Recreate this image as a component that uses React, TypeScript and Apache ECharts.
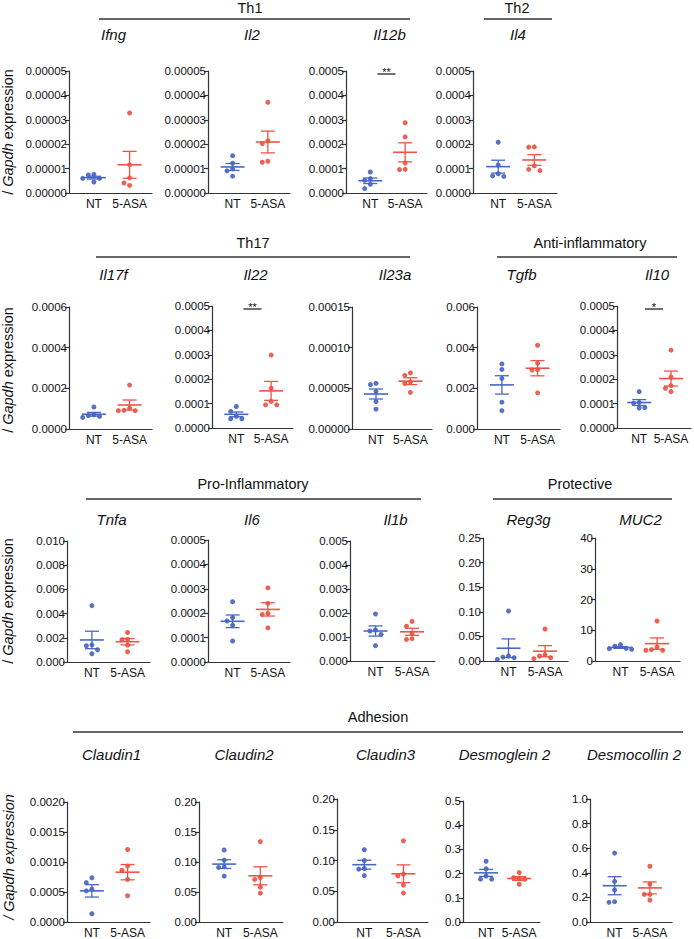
import React, { useEffect, useRef } from 'react';
import * as echarts from 'echarts';

// ---------- data ----------
const GROUP_LABELS = ['NT', '5-ASA'];

const GENES = [
  'Ifng', 'Il2', 'Il12b', 'Il4',
  'Il17f', 'Il22', 'Il23a', 'Tgfb', 'Il10',
  'Tnfa', 'Il6', 'Il1b', 'Reg3g', 'MUC2',
  'Claudin1', 'Claudin2', 'Claudin3', 'Desmoglein 2', 'Desmocollin 2',
];

const IFNG_NT = [0.0000076, 0.000006, 0.0000045, 0.0000074, 0.000006];
const IFNG_ASA = [0.0000328, 0.0000116, 0.0000062, 0.0000041, 0.0000031];
const IL2_NT = [0.0000153, 0.0000122, 0.0000099, 0.0000091, 0.0000069];
const IL2_ASA = [0.0000372, 0.0000203, 0.0000214, 0.0000126, 0.000013];
const IL12B_NT = [0.000086, 0.000059, 0.000052, 0.000036, 0.000018];
const IL12B_ASA = [0.000288, 0.00023, 0.000123, 0.000097, 0.000096];
const IL4_NT = [0.000208, 0.000115, 0.000079, 0.00007, 0.000068];
const IL4_ASA = [0.000188, 0.000189, 0.000111, 0.000092, 0.000097];
const IL17F_NT = [0.000108, 0.000057, 0.00007, 0.000066, 0.000062];
const IL17F_ASA = [0.000216, 0.00009, 0.000102, 0.000092, 0.00009];
const IL22_NT = [0.000088, 0.000068, 0.000048, 0.000038, 0.000038];
const IL22_ASA = [0.000299, 0.000163, 0.000109, 0.000095, 0.000095];
const IL23A_NT = [0.0000562, 0.0000546, 0.000046, 0.0000338, 0.0000244];
const IL23A_ASA = [0.000069, 0.000066, 0.000058, 0.000056, 0.000045];
const TGFB_NT = [0.0032, 0.00293, 0.00249, 0.00132, 0.0009];
const TGFB_ASA = [0.00412, 0.00323, 0.00292, 0.0029, 0.00178];
const IL10_NT = [0.000149, 0.000105, 0.000102, 0.000082, 0.000084];
const IL10_ASA = [0.000319, 0.000208, 0.000174, 0.000163, 0.000149];
const TNFA_NT = [0.00466, 0.00142, 0.00134, 0.00101, 0.00068];
const TNFA_ASA = [0.00244, 0.00184, 0.00186, 0.0014, 0.00085];
const IL6_NT = [0.000247, 0.000182, 0.000168, 0.000151, 0.000086];
const IL6_ASA = [0.000304, 0.00024, 0.000199, 0.000195, 0.00014];
const IL1B_NT = [0.00196, 0.00129, 0.00125, 0.00111, 0.00064];
const IL1B_ASA = [0.00165, 0.00145, 0.00115, 0.00093, 0.0009];
const REG3G_NT = [0.1016, 0.0102, 0.008, 0.0068, 0.0034];
const REG3G_ASA = [0.065, 0.0129, 0.0102, 0.0068, 0.0047];
const MUC2_NT = [5.3, 4.8, 4.1, 3.8, 4.0];
const MUC2_ASA = [13.0, 4.55, 3.7, 3.5, 3.5];
const CLDN1_NT = [0.000738, 0.000656, 0.000546, 0.000519, 0.000137];
const CLDN1_ASA = [0.001208, 0.000934, 0.000863, 0.00071, 0.000437];
const CLDN2_NT = [0.12, 0.103, 0.091, 0.092, 0.0765];
const CLDN2_ASA = [0.134, 0.074, 0.071, 0.058, 0.048];
const CLDN3_NT = [0.1175, 0.1, 0.086, 0.087, 0.0755];
const CLDN3_ASA = [0.132, 0.078, 0.075, 0.06, 0.047];
const DSG2_NT = [0.251, 0.22, 0.177, 0.177, 0.19];
const DSG2_ASA = [0.204, 0.183, 0.179, 0.177, 0.156];
const DSC2_NT = [0.56, 0.33, 0.26, 0.165, 0.16];
const DSC2_ASA = [0.453, 0.307, 0.224, 0.224, 0.178];

const NT_VALUES = [
  IFNG_NT, IL2_NT, IL12B_NT, IL4_NT,
  IL17F_NT, IL22_NT, IL23A_NT, TGFB_NT, IL10_NT,
  TNFA_NT, IL6_NT, IL1B_NT, REG3G_NT, MUC2_NT,
  CLDN1_NT, CLDN2_NT, CLDN3_NT, DSG2_NT, DSC2_NT,
];
const ASA_VALUES = [
  IFNG_ASA, IL2_ASA, IL12B_ASA, IL4_ASA,
  IL17F_ASA, IL22_ASA, IL23A_ASA, TGFB_ASA, IL10_ASA,
  TNFA_ASA, IL6_ASA, IL1B_ASA, REG3G_ASA, MUC2_ASA,
  CLDN1_ASA, CLDN2_ASA, CLDN3_ASA, DSG2_ASA, DSC2_ASA,
];

// y-axis: max, step, decimals of tick labels
const Y_MAX = [
  0.00005, 0.00005, 0.0005, 0.0005,
  0.0006, 0.0005, 0.00015, 0.006, 0.0005,
  0.01, 0.0005, 0.005, 0.25, 40,
  0.002, 0.2, 0.2, 0.5, 1.0,
];
const Y_STEP = [
  0.00001, 0.00001, 0.0001, 0.0001,
  0.0002, 0.0001, 0.00005, 0.002, 0.0001,
  0.002, 0.0001, 0.001, 0.05, 10,
  0.0005, 0.05, 0.05, 0.1, 0.2,
];
const Y_DEC = [
  5, 5, 4, 4,
  4, 4, 5, 3, 4,
  3, 4, 3, 2, 0,
  4, 2, 2, 1, 1,
];
const SIGNIF = [
  '', '', '**', '',
  '', '**', '', '', '*',
  '', '', '', '', '',
  '', '', '', '', '',
];

const HEADERS = ['Th1', 'Th2', 'Th17', 'Anti-inflammatory', 'Pro-Inflammatory', 'Protective', 'Adhesion'];

// ---------- layout (pixels) ----------
// [left, right, top, bottom] of each plot area
const LAYOUT = [
  [69, 152, 71, 193],
  [208, 290, 71, 193],
  [346, 427, 71, 193],
  [473, 557, 71, 193],
  [69, 152, 307, 429],
  [212, 293, 306, 428],
  [352, 432, 307, 429],
  [477, 560, 307, 429],
  [617, 691, 306, 428],
  [67, 150, 541, 662],
  [208, 290, 540, 662],
  [350, 435, 541, 661],
  [483, 568, 538, 661],
  [595, 680, 538, 661],
  [67, 150, 802, 924],
  [199, 283, 802, 924],
  [337, 428, 799, 922],
  [463, 540, 801, 923],
  [590, 672, 799, 923],
];
const TITLE_Y = [34, 34, 34, 34, 274, 274, 274, 274, 274, 519, 519, 519, 519, 519, 754, 754, 754, 754, 754];
// header: [textX, textY, lineX1, lineX2, lineY]
const HEADER_POS = [
  [250, 8, 99, 410, 19],
  [517, 8, 484, 552, 19],
  [253, 243, 96, 410, 257],
  [590, 243, 497, 677, 257],
  [253, 484, 86, 421, 499],
  [580, 484, 493, 672, 499],
  [378, 717, 73, 683, 732],
];
const YLABEL_POS = [
  [8, 132, false],
  [8, 370, false],
  [8, 601, false],
  [9, 857, true],
];

const FONT = '"Liberation Sans", Arial, Helvetica, sans-serif';
const GROUP_X = [0.3, 0.73];
const DOT_COLORS = ['#2f4fb5', '#e8392b'];
const LINE_COLORS = ['#4767c6', '#ee5446'];

function meanSem(v: number[]) {
  const n = v.length;
  const m = v.reduce((a, b) => a + b, 0) / n;
  const sd = Math.sqrt(v.reduce((a, b) => a + (b - m) * (b - m), 0) / (n - 1));
  return [m, sd / Math.sqrt(n)];
}

// simple beeswarm: spread points horizontally when they overlap
function swarm(values: number[], max: number, hPx: number, wPx: number, center: number) {
  const d = 5.2;
  const step = 5.6;
  const idx = values.map((_, i) => i).sort((a, b) => values[b] - values[a]);
  const placed: { px: number; py: number }[] = [];
  const out: number[][] = [];
  const ks = [0, -1, 1, -2, 2, -3, 3, -4, 4];
  idx.forEach((i) => {
    const py = (values[i] / max) * hPx;
    let chosen = 0;
    for (const k of ks) {
      const px = k * step;
      if (placed.every((p) => (p.px - px) ** 2 + (p.py - py) ** 2 >= d * d)) {
        chosen = px;
        break;
      }
    }
    placed.push({ px: chosen, py });
    out.push([center + chosen / wPx, values[i]]);
  });
  return out;
}

function buildOption() {
  const grid: any[] = [];
  const xAxis: any[] = [];
  const yAxis: any[] = [];
  const series: any[] = [];
  const graphic: any[] = [];

  GENES.forEach((gene, i) => {
    const [l, r, t, b] = LAYOUT[i];
    const w = r - l;
    const h = b - t;
    grid.push({ left: l, top: t, width: w, height: h, containLabel: false });
    xAxis.push({
      type: 'value',
      gridIndex: i,
      min: 0,
      max: 1,
      splitLine: { show: false },
      axisTick: { show: false },
      axisLine: { show: true, lineStyle: { color: '#333', width: 1.2 } },
      axisLabel: {
        customValues: GROUP_X,
        margin: 5,
        fontSize: 12,
        fontFamily: FONT,
        color: '#111',
        formatter: (v: number) => {
          const k = GROUP_X.findIndex((g) => Math.abs(g - v) < 1e-6);
          return k >= 0 ? GROUP_LABELS[k] : '';
        },
      },
    });
    yAxis.push({
      type: 'value',
      gridIndex: i,
      min: 0,
      max: Y_MAX[i],
      interval: Y_STEP[i],
      splitLine: { show: false },
      axisLine: { show: true, lineStyle: { color: '#333', width: 1.2 } },
      axisTick: { show: true, length: 4, lineStyle: { color: '#333', width: 1.2 } },
      axisLabel: {
        margin: 2,
        fontSize: 11.5,
        fontFamily: FONT,
        color: '#111',
        formatter: (v: number) => v.toFixed(Y_DEC[i]),
      },
    });

    const groups = [NT_VALUES[i], ASA_VALUES[i]];
    groups.forEach((vals, g) => {
      series.push({
        type: 'scatter',
        xAxisIndex: i,
        yAxisIndex: i,
        symbol: 'circle',
        symbolSize: 5,
        itemStyle: { color: DOT_COLORS[g] },
        data: swarm(vals, Y_MAX[i], h, w, GROUP_X[g]),
        z: 3,
      });
    });

    series.push({
      type: 'custom',
      xAxisIndex: i,
      yAxisIndex: i,
      z: 4,
      data: groups.map((vals, g) => {
        const [m, s] = meanSem(vals);
        return [GROUP_X[g], m, s, g];
      }),
      renderItem: (_p: any, api: any) => {
        const xc = api.value(0);
        const m = api.value(1);
        const s = api.value(2);
        const g = api.value(3);
        const c = api.coord([xc, m]);
        const top = api.coord([xc, m + s]);
        const bot = api.coord([xc, Math.max(0, m - s)]);
        const col = LINE_COLORS[g];
        const st = { stroke: col, lineWidth: 1.3 };
        return {
          type: 'group',
          children: [
            { type: 'line', shape: { x1: c[0] - 12, y1: c[1], x2: c[0] + 12, y2: c[1] }, style: { stroke: col, lineWidth: 1.6 } },
            { type: 'line', shape: { x1: c[0], y1: top[1], x2: c[0], y2: bot[1] }, style: st },
            { type: 'line', shape: { x1: c[0] - 7, y1: top[1], x2: c[0] + 7, y2: top[1] }, style: st },
            { type: 'line', shape: { x1: c[0] - 7, y1: bot[1], x2: c[0] + 7, y2: bot[1] }, style: st },
          ],
        };
      },
    });

    if (SIGNIF[i]) {
      series.push({
        type: 'custom',
        xAxisIndex: i,
        yAxisIndex: i,
        data: [[0.5, Y_MAX[i]]],
        renderItem: (_p: any, api: any) => {
          const c = api.coord([api.value(0), api.value(1)]);
          const ly = c[1] + 3;
          return {
            type: 'group',
            children: [
              { type: 'line', shape: { x1: c[0] - 9, y1: ly, x2: c[0] + 9, y2: ly }, style: { stroke: '#111', lineWidth: 1.2 } },
              {
                type: 'text',
                x: c[0],
                y: ly - 2,
                style: { text: SIGNIF[i], align: 'center', verticalAlign: 'middle', fontSize: 11, fontFamily: FONT, fill: '#111' },
              },
            ],
          };
        },
      });
    }

    graphic.push({
      type: 'text',
      x: l + w / 2 + 3,
      y: TITLE_Y[i],
      style: {
        text: gene,
        align: 'center',
        verticalAlign: 'middle',
        fontSize: 15,
        fontStyle: 'italic',
        fontFamily: FONT,
        fill: '#111',
      },
    });
  });

  HEADERS.forEach((hd, k) => {
    const [tx, ty, x1, x2, ly] = HEADER_POS[k];
    graphic.push({
      type: 'text',
      x: tx,
      y: ty,
      style: { text: hd, align: 'center', verticalAlign: 'middle', fontSize: 14.5, fontFamily: FONT, fill: '#111' },
    });
    graphic.push({
      type: 'line',
      shape: { x1, y1: ly, x2, y2: ly },
      style: { stroke: k === 0 ? '#666' : '#333', lineWidth: k === 0 ? 2 : 1.3 },
    });
  });

  YLABEL_POS.forEach(([x, y, allItalic]) => {
    graphic.push({
      type: 'text',
      x,
      y,
      rotation: Math.PI / 2,
      style: {
        text: '{r|/ }{i|Gapdh}{r| expression}',
        align: 'center',
        verticalAlign: 'middle',
        fontSize: 14.5,
        fontFamily: FONT,
        fill: '#111',
        rich: {
          r: { fontSize: 14.5, fontFamily: FONT, fill: '#111', fontStyle: allItalic ? 'italic' : 'normal' },
          i: { fontSize: 14.5, fontFamily: FONT, fill: '#111', fontStyle: 'italic' },
        },
      },
    });
  });

  return {
    animation: false,
    backgroundColor: '#ffffff',
    grid,
    xAxis,
    yAxis,
    series,
    graphic,
  };
}

export default function App() {
  const ref = useRef<HTMLDivElement>(null);
  useEffect(() => {
    if (!ref.current) return;
    const chart = echarts.init(ref.current, null, { renderer: 'svg' });
    chart.setOption(buildOption() as any);
    return () => chart.dispose();
  }, []);
  return (
    <div
      ref={ref}
      style={{ position: 'absolute', left: 0, top: 0, width: 694, height: 939, background: '#fff' }}
    />
  );
}
